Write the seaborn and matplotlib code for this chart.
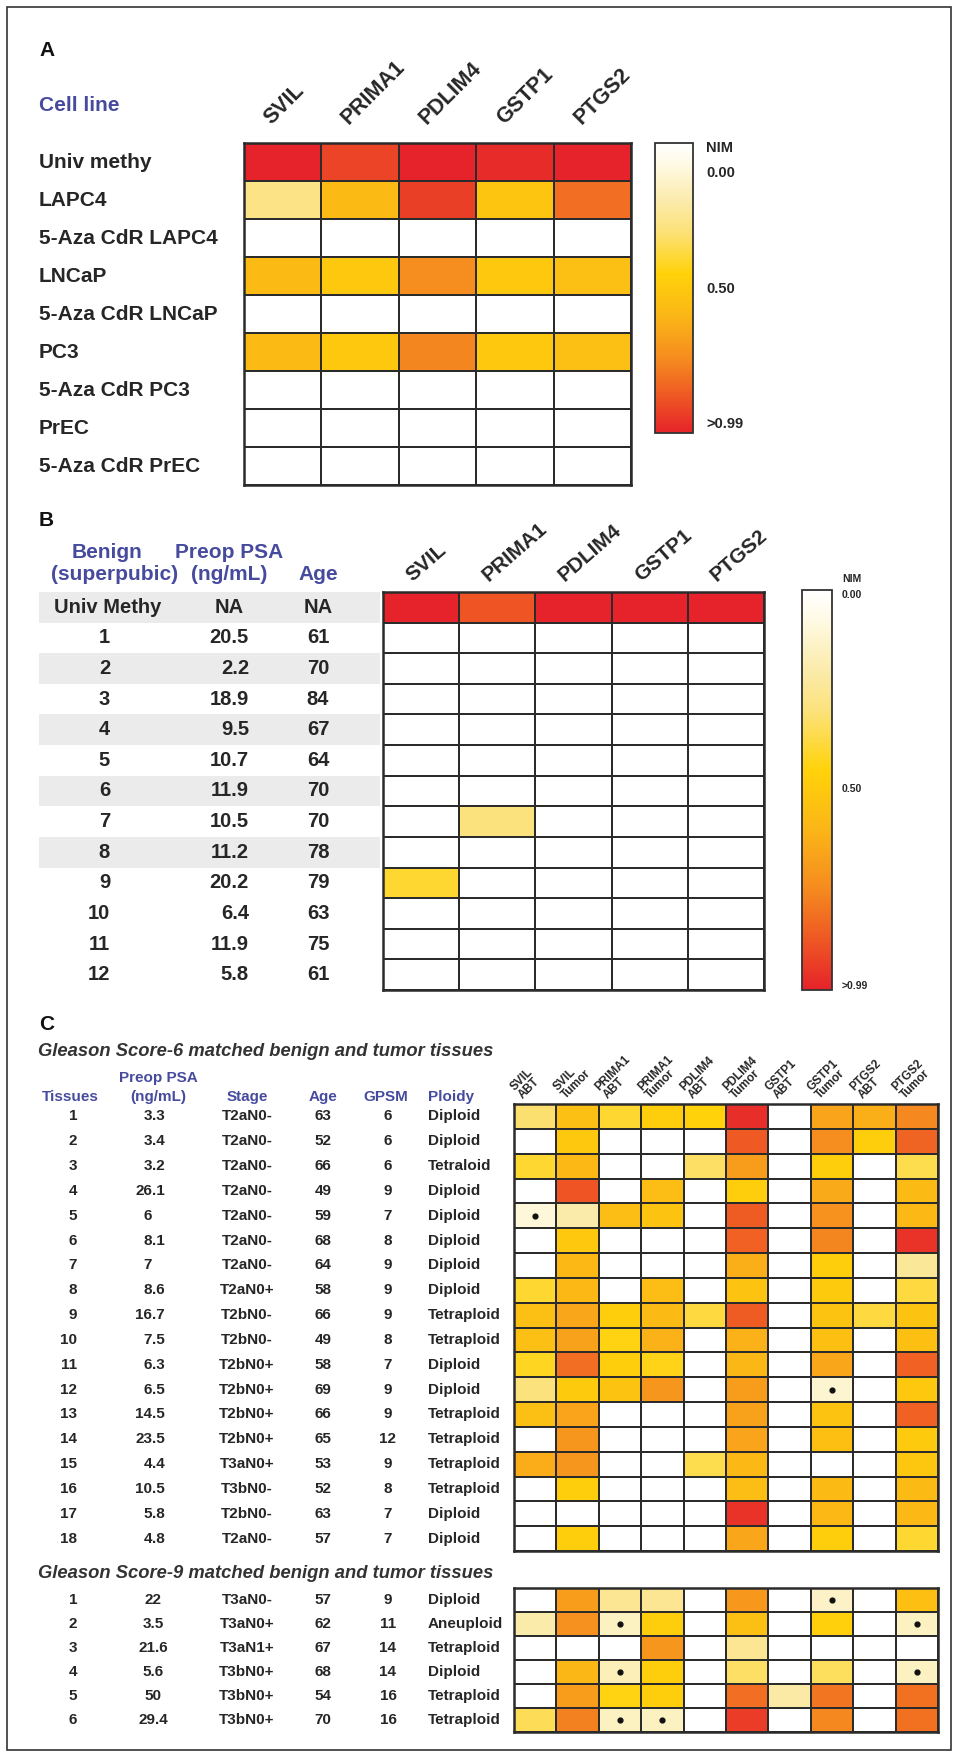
import numpy as np
import matplotlib
matplotlib.use("Agg")
import matplotlib.pyplot as plt
import matplotlib.transforms as mtransforms
from matplotlib.colors import LinearSegmentedColormap
from matplotlib.patches import Rectangle
import seaborn as sns

W, H = 959, 1759
DPI = 100

sns.set_style("white")
plt.rcParams["font.family"] = ["Liberation Sans", "DejaVu Sans"]
plt.rcParams["font.weight"] = "bold"

BLUE = "#474b9e"
INK = "#262626"
GRID = "#2b2b2b"

##### data ####################################################################
genes = ["SVIL", "PRIMA1", "PDLIM4", "GSTP1", "PTGS2"]

# panel A - cell lines
cell_lines = ["Univ methy", "LAPC4", "5-Aza CdR LAPC4", "LNCaP", "5-Aza CdR LNCaP",
              "PC3", "5-Aza CdR PC3", "PrEC", "5-Aza CdR PrEC"]
cell_vals = [
    [1.00, 0.92, 1.00, 0.98, 1.00],
    [0.28, 0.57, 0.93, 0.52, 0.82],
    [0, 0, 0, 0, 0],
    [0.57, 0.50, 0.74, 0.50, 0.55],
    [0, 0, 0, 0, 0],
    [0.57, 0.50, 0.76, 0.50, 0.55],
    [0, 0, 0, 0, 0],
    [0, 0, 0, 0, 0],
    [0, 0, 0, 0, 0],
]

# panel B - benign (superpubic)
benign_ids = ["Univ Methy"] + [str(i) for i in range(1, 13)]
benign_psa = ["NA", "20.5", "2.2", "18.9", "9.5", "10.7", "11.9", "10.5", "11.2",
              "20.2", "6.4", "11.9", "5.8"]
benign_age = ["NA", "61", "70", "84", "67", "64", "70", "70", "78", "79", "63", "75", "61"]
benign_vals = [
    [1.00, 0.88, 1.00, 1.00, 1.00],
    [0, 0, 0, 0, 0],
    [0, 0, 0, 0, 0],
    [0, 0, 0, 0, 0],
    [0, 0, 0, 0, 0],
    [0, 0, 0, 0, 0],
    [0, 0, 0, 0, 0],
    [0, 0.30, 0, 0, 0],
    [0, 0, 0, 0, 0],
    [0.40, 0, 0, 0, 0],
    [0, 0, 0, 0, 0],
    [0, 0, 0, 0, 0],
    [0, 0, 0, 0, 0],
]
shaded_b = [0, 2, 4, 6, 8]

# panel C - matched benign (ABT) and tumor
c_cols = [f"{g}\n{t}" for g in genes for t in ("ABT", "Tumor")]

gs6_psa = ["3.3", "3.4", "3.2", "26.1", "6", "8.1", "7", "8.6", "16.7", "7.5", "6.3",
           "6.5", "14.5", "23.5", "4.4", "10.5", "5.8", "4.8"]
gs6_stage = ["T2aN0-", "T2aN0-", "T2aN0-", "T2aN0-", "T2aN0-", "T2aN0-", "T2aN0-",
             "T2aN0+", "T2bN0-", "T2bN0-", "T2bN0+", "T2bN0+", "T2bN0+", "T2bN0+",
             "T3aN0+", "T3bN0-", "T2bN0-", "T2aN0-"]
gs6_age = [63, 52, 66, 49, 59, 68, 64, 58, 66, 49, 58, 69, 66, 65, 53, 52, 63, 57]
gs6_gpsm = [6, 6, 6, 9, 7, 8, 9, 9, 9, 8, 7, 9, 9, 12, 9, 8, 7, 7]
gs6_ploidy = ["Diploid", "Diploid", "Tetraloid", "Diploid", "Diploid", "Diploid",
              "Diploid", "Diploid", "Tetraploid", "Tetraploid", "Diploid", "Diploid",
              "Tetraploid", "Tetraploid", "Tetraploid", "Tetraploid", "Diploid", "Diploid"]
gs6_vals = [
    [0.32, 0.55, 0.40, 0.47, 0.45, 0.97, 0, 0.66, 0.62, 0.75],
    [0, 0.50, 0, 0, 0, 0.87, 0, 0.74, 0.48, 0.84],
    [0.40, 0.58, 0, 0, 0.33, 0.68, 0, 0.47, 0, 0.36],
    [0, 0.88, 0, 0.56, 0, 0.48, 0, 0.64, 0, 0.57],
    [0.10, 0.20, 0.56, 0.53, 0, 0.86, 0, 0.72, 0, 0.58],
    [0, 0.50, 0, 0, 0, 0.85, 0, 0.76, 0, 0.96],
    [0, 0.58, 0, 0, 0, 0.62, 0, 0.48, 0, 0.24],
    [0.40, 0.58, 0, 0.56, 0, 0.53, 0, 0.49, 0, 0.38],
    [0.55, 0.65, 0.47, 0.57, 0.38, 0.86, 0, 0.53, 0.38, 0.53],
    [0.55, 0.67, 0.44, 0.61, 0, 0.61, 0, 0.54, 0, 0.54],
    [0.42, 0.82, 0.47, 0.43, 0, 0.59, 0, 0.65, 0, 0.85],
    [0.30, 0.49, 0.53, 0.71, 0, 0.68, 0, 0.12, 0, 0.50],
    [0.55, 0.66, 0, 0, 0, 0.67, 0, 0.53, 0, 0.85],
    [0, 0.71, 0, 0, 0, 0.66, 0, 0.54, 0, 0.49],
    [0.63, 0.71, 0, 0, 0.36, 0.58, 0, 0, 0, 0.51],
    [0, 0.48, 0, 0, 0, 0.56, 0, 0.57, 0, 0.57],
    [0, 0, 0, 0, 0, 0.96, 0, 0.58, 0, 0.58],
    [0, 0.48, 0, 0, 0, 0.65, 0, 0.48, 0, 0.40],
]
gs6_dots = [(4, 0), (11, 7)]  # (row, column)

gs9_psa = ["22", "3.5", "21.6", "5.6", "50", "29.4"]
gs9_stage = ["T3aN0-", "T3aN0+", "T3aN1+", "T3bN0+", "T3bN0+", "T3bN0+"]
gs9_age = [57, 62, 67, 68, 54, 70]
gs9_gpsm = [9, 11, 14, 14, 16, 16]
gs9_ploidy = ["Diploid", "Aneuploid", "Tetraploid", "Diploid", "Tetraploid", "Tetraploid"]
gs9_vals = [
    [0, 0.68, 0.25, 0.25, 0, 0.70, 0, 0.14, 0, 0.54],
    [0.20, 0.73, 0.15, 0.48, 0, 0.55, 0, 0.46, 0, 0.15],
    [0, 0, 0, 0.71, 0, 0.25, 0, 0, 0, 0],
    [0, 0.59, 0.17, 0.47, 0, 0.33, 0, 0.34, 0, 0.15],
    [0, 0.68, 0.44, 0.47, 0, 0.82, 0.21, 0.80, 0, 0.81],
    [0.35, 0.77, 0.15, 0.15, 0, 0.94, 0, 0.75, 0, 0.81],
]
gs9_dots = [(0, 7), (1, 2), (1, 9), (3, 2), (3, 9), (5, 2), (5, 3)]

meth_cmap = LinearSegmentedColormap.from_list(
    "meth",
    [(0.0, "#ffffff"), (0.06, "#fffbea"), (0.2, "#fbebaa"), (0.3, "#fce27c"),
     (0.45, "#ffd20a"), (0.6, "#fbb517"), (0.75, "#f58a1f"), (0.88, "#ee5524"),
     (1.0, "#e6232a")],
)

##### figure ##################################################################
fig = plt.figure(figsize=(W / DPI, H / DPI), dpi=DPI)
fig.patch.set_facecolor("white")

# overlay in pixel coordinates for the table text
ov = fig.add_axes([0, 0, 1, 1], zorder=0)
ov.set_xlim(0, W)
ov.set_ylim(H, 0)
ov.axis("off")
ov.add_patch(Rectangle((7, 7), 944, 1743, fill=False, lw=1.2, ec="#333333"))


def px_rect(x0, y0, x1, y1):
    return [x0 / W, 1 - y1 / H, (x1 - x0) / W, (y1 - y0) / H]


def draw_heat(rect, values, cax_rect=None):
    ax = fig.add_axes(px_rect(*rect), zorder=2)
    kws = dict(cmap=meth_cmap, vmin=0, vmax=1, linewidths=1.4, linecolor=GRID,
               xticklabels=False, yticklabels=False)
    if cax_rect is not None:
        cax = fig.add_axes(px_rect(*cax_rect), zorder=2)
        sns.heatmap(np.array(values), ax=ax, cbar=True, cbar_ax=cax, **kws)
        cbar = ax.collections[0].colorbar
        cbar.set_ticks([])
        cbar.outline.set_linewidth(1.3)
        cbar.outline.set_edgecolor("#333333")
        cax.invert_yaxis()
    else:
        sns.heatmap(np.array(values), ax=ax, cbar=False, **kws)
    for s in ax.spines.values():
        s.set_visible(True)
        s.set_linewidth(1.8)
        s.set_color(GRID)
    return ax


def gene_header(ax, labels, rot, dx, dy, size, va="baseline", **kw):
    off = mtransforms.ScaledTranslation(dx / DPI, dy / DPI, fig.dpi_scale_trans)
    for j, lab in enumerate(labels):
        ax.text(j + 0.5, 0, lab, transform=ax.transData + off, rotation=rot,
                rotation_mode="anchor", ha="left", va=va, fontsize=size, color=INK, **kw)


def cbar_labels(cax, items, dx, size):
    off = mtransforms.ScaledTranslation(dx / DPI, 0, fig.dpi_scale_trans)
    for lab, frac in items:
        cax.text(1, 1 - frac, lab, transform=cax.transAxes + off, ha="left",
                 va="center", fontsize=size, color=INK)


##### panel A #################################################################
axA = draw_heat((244, 143, 631, 485), cell_vals, cax_rect=(655, 143, 693, 433))
cbar_labels(fig.axes[-1], [("NIM", 0.017), ("0.00", 0.103), ("0.50", 0.503),
                           (">0.99", 0.969)], 13, 10.5)
gene_header(axA, genes, 45, -11, 18, 15.5)
ov.text(39, 50, "A", fontsize=15, ha="left", va="center", color="#111111")
ov.text(39, 105, "Cell line", fontsize=15, ha="left", va="center", color=BLUE)
blendA = mtransforms.blended_transform_factory(ov.transData, axA.transData)
for i, lab in enumerate(cell_lines):
    ov.text(39, i + 0.5, lab, transform=blendA, fontsize=15, ha="left", va="center",
            color=INK)

##### panel B #################################################################
axB = draw_heat((383, 592, 764, 990), benign_vals, cax_rect=(802, 590, 832, 990))
cbar_labels(fig.axes[-1], [("NIM", -0.028), ("0.00", 0.0125), ("0.50", 0.4975),
                           (">0.99", 0.99)], 10, 7.5)
gene_header(axB, genes, 41, -9, 10, 15)
ov.text(39, 520, "B", fontsize=15, ha="left", va="center", color="#111111")
for x, y, s in [(107, 552, "Benign"), (115, 575, "(superpubic)"),
                (229, 552, "Preop PSA"), (229, 575, "(ng/mL)"), (318, 575, "Age")]:
    ov.text(x, y, s, fontsize=15, ha="center", va="center", color=BLUE)
blendB = mtransforms.blended_transform_factory(ov.transData, axB.transData)
for i in shaded_b:
    ov.add_patch(Rectangle((39, i), 341, 1, transform=blendB, color="#ebebeb", lw=0))
for i, (bid, psa, age) in enumerate(zip(benign_ids, benign_psa, benign_age)):
    y = i + 0.5
    kw = dict(transform=blendB, fontsize=14.5, va="center", color=INK)
    if i == 0:
        ov.text(108, y, bid, ha="center", **kw)
        ov.text(229, y, psa, ha="center", **kw)
    else:
        ov.text(110, y, bid, ha="right", **kw)
        ov.text(249, y, psa, ha="right", **kw)
    ov.text(318, y, age, ha="center", **kw)

##### panel C #################################################################
ax6 = draw_heat((514, 1104, 938, 1551), gs6_vals)
ax9 = draw_heat((514, 1588, 938, 1732), gs9_vals)
gene_header(ax6, c_cols, 45, -10, 3, 8.5, va="bottom", linespacing=0.95)
for ax, dots in [(ax6, gs6_dots), (ax9, gs9_dots)]:
    rows, cols = zip(*dots)
    ax.scatter(np.array(cols) + 0.5, np.array(rows) + 0.5, s=12, color="#111111",
               zorder=5, clip_on=False)

ov.text(39, 1025, "C", fontsize=15, ha="left", va="center", color="#111111")
ov.text(38, 1051, "Gleason Score-6 matched benign and tumor tissues", fontsize=13.2,
        style="italic", ha="left", va="center", color="#333333")
ov.text(38, 1574, "Gleason Score-9 matched benign and tumor tissues", fontsize=13.2,
        style="italic", ha="left", va="center", color="#333333")
for x, y, s, ha in [(70, 1097, "Tissues", "center"), (158, 1078, "Preop PSA", "center"),
                    (158, 1097, "(ng/mL)", "center"), (247, 1097, "Stage", "center"),
                    (323, 1097, "Age", "center"), (386, 1097, "GPSM", "center"),
                    (428, 1097, "Ploidy", "left")]:
    ov.text(x, y, s, fontsize=11, ha=ha, va="center", color=BLUE)


def table_rows(ax, psa, stage, age, gpsm, ploidy, decimal_align):
    blend = mtransforms.blended_transform_factory(ov.transData, ax.transData)
    kw = dict(transform=blend, fontsize=11, va="center", color=INK)
    for i in range(len(psa)):
        y = i + 0.5
        ov.text(77, y, str(i + 1), ha="right", **kw)
        if decimal_align:
            ip, _, fp = psa[i].partition(".")
            ov.text(152, y, ip, ha="right", **kw)
            if fp:
                ov.text(152, y, "." + fp, ha="left", **kw)
        else:
            ov.text(153, y, psa[i], ha="center", **kw)
        ov.text(247, y, stage[i], ha="center", **kw)
        ov.text(323, y, str(age[i]), ha="center", **kw)
        ov.text(388, y, str(gpsm[i]), ha="center", **kw)
        ov.text(428, y, ploidy[i], ha="left", **kw)


table_rows(ax6, gs6_psa, gs6_stage, gs6_age, gs6_gpsm, gs6_ploidy, True)
table_rows(ax9, gs9_psa, gs9_stage, gs9_age, gs9_gpsm, gs9_ploidy, False)

fig.savefig("out.png", dpi=DPI, facecolor="white")
